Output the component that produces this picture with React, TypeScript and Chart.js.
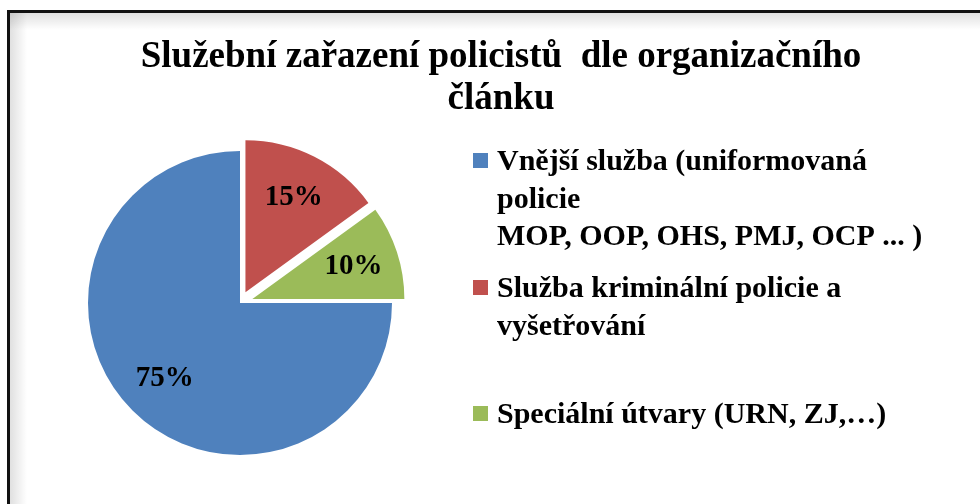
import React, { useEffect, useRef } from "react";
import { Chart, registerables } from "chart.js";

Chart.register(...registerables);

const titleLines = ["Služební zařazení policistů  dle organizačního", "článku"];
const categories = [
  ["Vnější služba (uniformovaná", "policie", "MOP, OOP, OHS, PMJ, OCP ... )"],
  ["Služba kriminální policie a", "vyšetřování"],
  ["Speciální útvary (URN, ZJ,…)"],
];
const values = [75, 15, 10];
const percentLabels = ["75%", "15%", "10%"];
const colors = ["#4F81BD", "#C0504D", "#9BBB59"];
const explode = [0, 12, 13];

const SERIF = '"Liberation Serif", "Times New Roman", serif';

const framePlugin = {
  id: "frame",
  beforeDraw(chart: any) {
    const ctx = chart.ctx;
    ctx.save();
    ctx.fillStyle = "#ffffff";
    ctx.fillRect(0, 0, chart.width, chart.height);
    let g = ctx.createLinearGradient(0, 12, 0, 30);
    g.addColorStop(0, "rgba(0,0,0,0.13)");
    g.addColorStop(1, "rgba(0,0,0,0)");
    ctx.fillStyle = g;
    ctx.fillRect(9, 12, chart.width - 9, 18);
    g = ctx.createLinearGradient(9, 0, 27, 0);
    g.addColorStop(0, "rgba(0,0,0,0.13)");
    g.addColorStop(1, "rgba(0,0,0,0)");
    ctx.fillStyle = g;
    ctx.fillRect(9, 12, 18, chart.height - 12);
    ctx.fillStyle = "#111111";
    ctx.fillRect(7, 10, chart.width - 7, 3);
    ctx.fillRect(7, 10, 3, chart.height - 10);
    ctx.restore();
  },
};

// explode slices: move each arc's centre along its mid-angle
const explodePlugin = {
  id: "explode",
  beforeDatasetsDraw(chart: any) {
    const meta = chart.getDatasetMeta(0);
    meta.data.forEach((el: any, i: number) => {
      if (el._exploded) return;
      const mid = (el.startAngle + el.endAngle) / 2;
      const d = explode[i] || 0;
      el.x += Math.cos(mid) * d;
      el.y += Math.sin(mid) * d;
      el._exploded = true;
    });
  },
};

const textPlugin = {
  id: "texts",
  afterDraw(chart: any) {
    const ctx = chart.ctx;
    ctx.save();
    ctx.fillStyle = "#000000";
    ctx.font = `bold 37px ${SERIF}`;
    ctx.textAlign = "center";
    ctx.textBaseline = "alphabetic";
    titleLines.forEach((t, i) => ctx.fillText(t, 501, 67 + i * 42));

    const meta = chart.getDatasetMeta(0);
    ctx.font = `bold 29px ${SERIF}`;
    ctx.textAlign = "center";
    ctx.textBaseline = "middle";
    meta.data.forEach((el: any, i: number) => {
      const mid = (el.startAngle + el.endAngle) / 2;
      const d = el.outerRadius * 0.7;
      ctx.fillText(percentLabels[i], el.x + Math.cos(mid) * d, el.y + Math.sin(mid) * d);
    });

    const baselines = [170, 297, 423];
    const lineH = 37.5;
    ctx.font = `bold 30px ${SERIF}`;
    ctx.textAlign = "left";
    ctx.textBaseline = "alphabetic";
    categories.forEach((lines, i) => {
      ctx.fillStyle = colors[i];
      ctx.fillRect(473, baselines[i] - 17, 15, 15);
      ctx.fillStyle = "#000000";
      lines.forEach((l, j) => ctx.fillText(l, 497, baselines[i] + j * lineH));
    });
    ctx.restore();
  },
};

export default function App() {
  const ref = useRef<HTMLCanvasElement>(null);
  useEffect(() => {
    if (!ref.current) return;
    const chart = new Chart(ref.current, {
      type: "pie",
      data: {
        labels: categories.map((c) => c.join(" ")),
        datasets: [
          {
            data: values,
            backgroundColor: colors,
            borderWidth: 0,
            radius: 152,
          } as any,
        ],
      },
      options: {
        responsive: false,
        animation: false,
        devicePixelRatio: 1,
        rotation: 90,
        layout: { padding: { left: 0, right: 500, top: 102, bottom: 0 } },
        plugins: {
          legend: { display: false },
          tooltip: { enabled: false },
          title: { display: false },
        },
      } as any,
      plugins: [framePlugin, explodePlugin, textPlugin],
    });
    return () => chart.destroy();
  }, []);
  return (
    <div style={{ position: "absolute", left: 0, top: 0, width: 980, height: 504 }}>
      <canvas ref={ref} width={980} height={504} />
    </div>
  );
}
